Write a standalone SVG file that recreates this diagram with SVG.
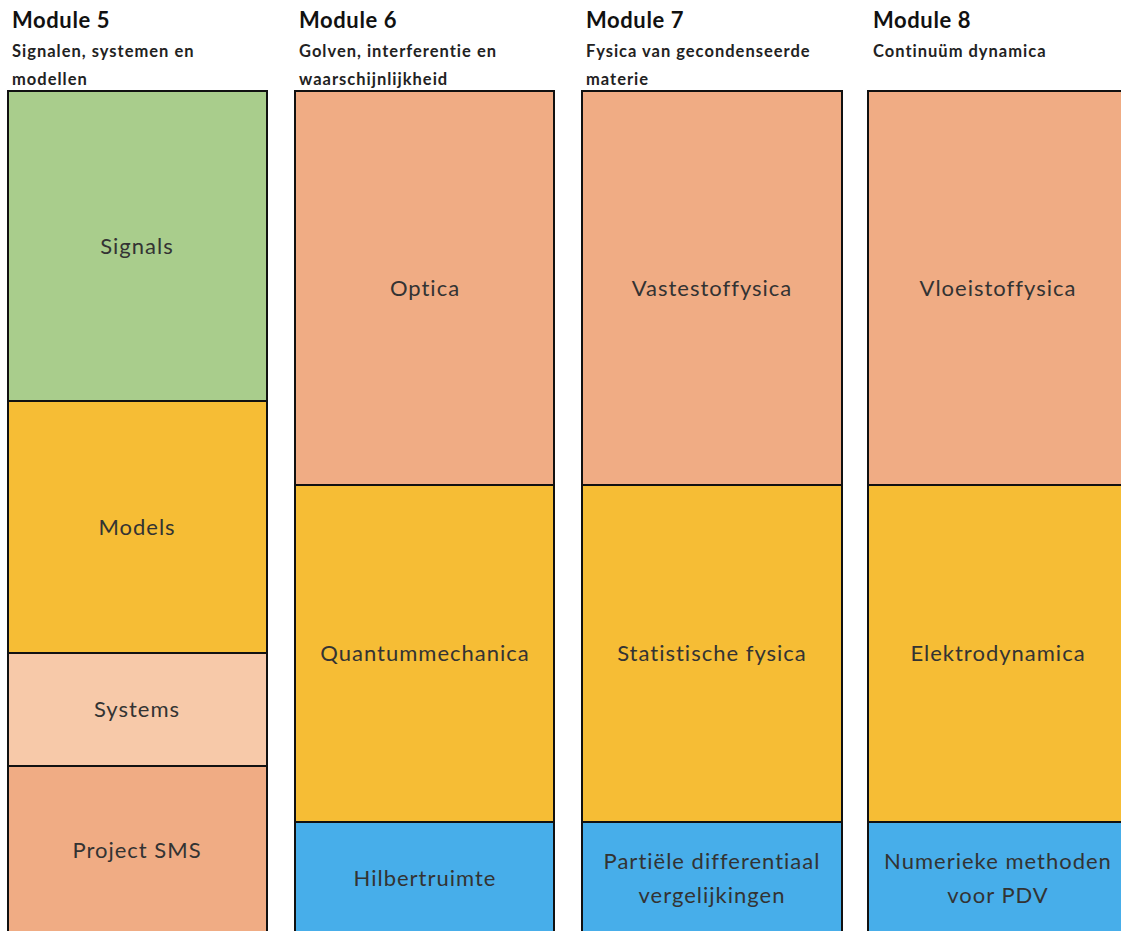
<svg xmlns="http://www.w3.org/2000/svg" width="1121" height="931" viewBox="0 0 1121 931">
<style>
.t{font-family:Lato,"Open Sans","Liberation Sans",sans-serif;font-weight:bold;font-size:22px;letter-spacing:0.6px;fill:#111}
.s{font-family:Lato,"Open Sans","Liberation Sans",sans-serif;font-weight:bold;font-size:16.5px;letter-spacing:1px;fill:#222}
.b{stroke:#111;stroke-width:2}
.l{font-family:Lato,"Open Sans","Liberation Sans",sans-serif;font-size:22px;letter-spacing:1px;fill:#333;text-anchor:middle}
.g{fill:#A9CD8C}.y{fill:#F6BD35}.p{fill:#F7C9A9}.o{fill:#F0AC84}.u{fill:#47AEEA}
</style>
<rect width="1121" height="931" fill="#fff"/>
<g id="h5"><text class="t" x="12" y="28">Module 5</text><text class="s" x="12" y="57">Signalen, systemen en</text><text class="s" x="12" y="85">modellen</text></g>
<g id="h6"><text class="t" x="299" y="28">Module 6</text><text class="s" x="299" y="57">Golven, interferentie en</text><text class="s" x="299" y="85">waarschijnlijkheid</text></g>
<g id="h7"><text class="t" x="586" y="28">Module 7</text><text class="s" x="586" y="57">Fysica van gecondenseerde</text><text class="s" x="586" y="85">materie</text></g>
<g id="h8"><text class="t" x="873" y="28">Module 8</text><text class="s" x="873" y="57">Continuüm dynamica</text></g>

<g id="signals"><rect class="b g" x="8" y="91" width="259" height="310"/><text class="l" x="137" y="254">Signals</text></g>
<g id="models"><rect class="b y" x="8" y="401" width="259" height="252"/><text class="l" x="137" y="535">Models</text></g>
<g id="systems"><rect class="b p" x="8" y="653" width="259" height="113"/><text class="l" x="137" y="717">Systems</text></g>
<g id="sms"><rect class="b o" x="8" y="766" width="259" height="180"/><text class="l" x="137" y="858">Project SMS</text></g>

<g id="optica"><rect class="b o" x="295" y="91" width="259" height="394"/><text class="l" x="425" y="296">Optica</text></g>
<g id="qm"><rect class="b y" x="295" y="485" width="259" height="337"/><text class="l" x="425" y="661">Quantummechanica</text></g>
<g id="hilbert"><rect class="b u" x="295" y="822" width="259" height="130"/><text class="l" x="425" y="886">Hilbertruimte</text></g>

<g id="vaste"><rect class="b o" x="582" y="91" width="260" height="394"/><text class="l" x="712" y="296">Vastestoffysica</text></g>
<g id="stat"><rect class="b y" x="582" y="485" width="260" height="337"/><text class="l" x="712" y="661">Statistische fysica</text></g>
<g id="pdv"><rect class="b u" x="582" y="822" width="260" height="130"/><text class="l" x="712" y="869">Partiële differentiaal</text><text class="l" x="712" y="903">vergelijkingen</text></g>

<g id="vloei"><rect class="b o" x="868" y="91" width="270" height="394"/><text class="l" x="998" y="296">Vloeistoffysica</text></g>
<g id="elektro"><rect class="b y" x="868" y="485" width="270" height="337"/><text class="l" x="998" y="661">Elektrodynamica</text></g>
<g id="num"><rect class="b u" x="868" y="822" width="270" height="130"/><text class="l" x="998" y="869">Numerieke methoden</text><text class="l" x="998" y="903">voor PDV</text></g>
<g id="connectors"/>
</svg>
